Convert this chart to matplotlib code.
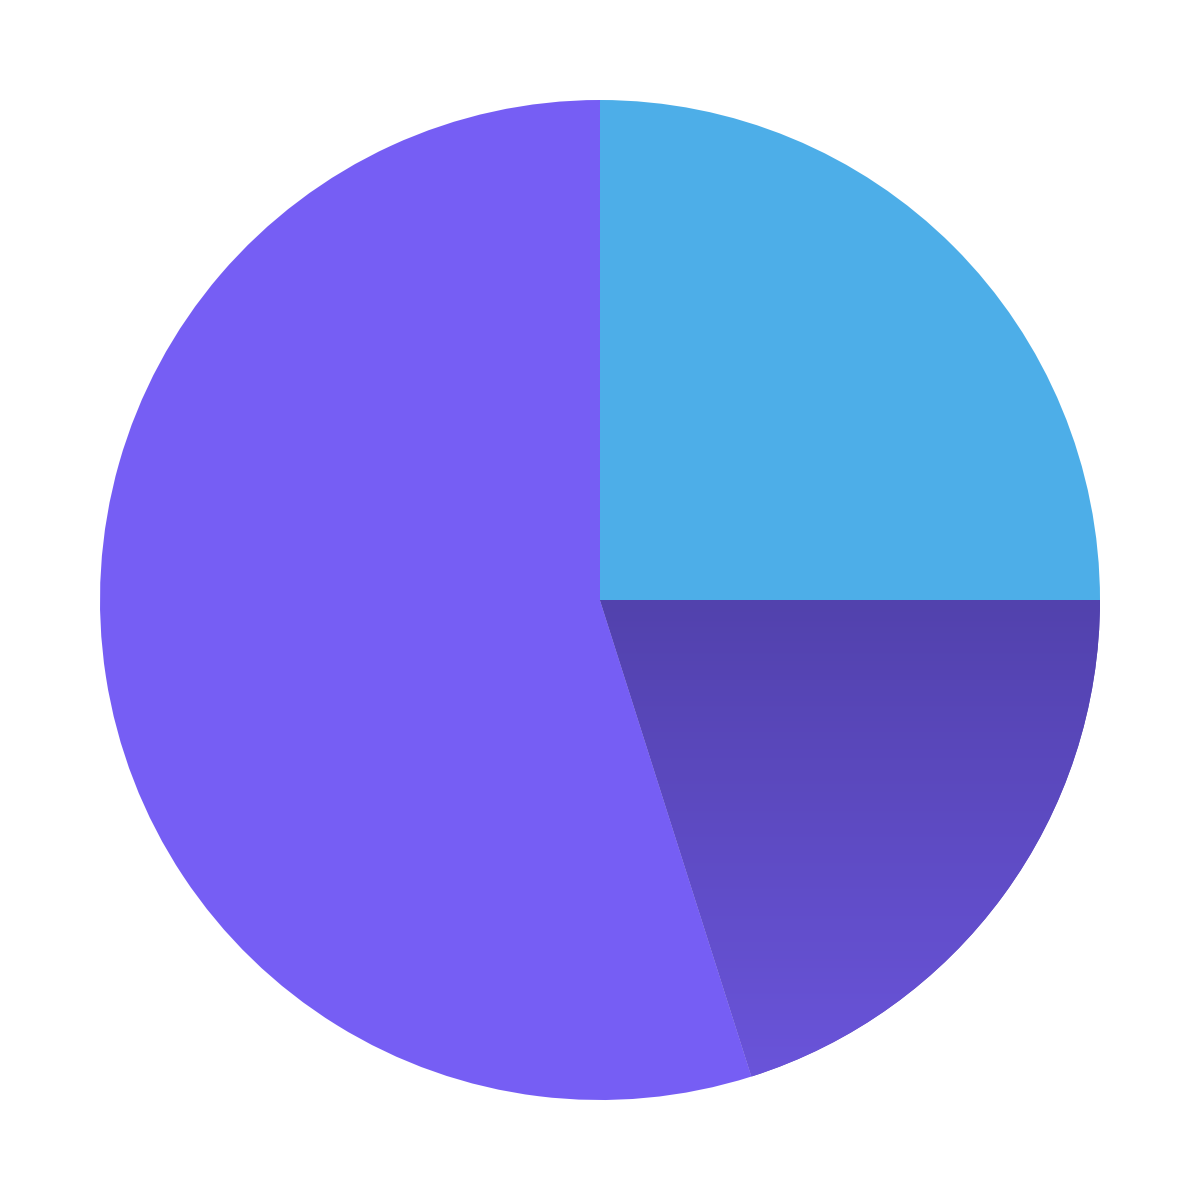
import numpy as np
import matplotlib.pyplot as plt
from matplotlib.colors import LinearSegmentedColormap

labels = ["A", "B", "C"]
values = [25, 20.1, 54.9]
colors = ["#4daee8", "#5a47b8", "#765ef4"]

fig = plt.figure(figsize=(12, 12), dpi=100)
ax = fig.add_axes([0, 0, 1, 1])

wedges, _ = ax.pie(values, colors=colors, startangle=90, counterclock=False,
                   radius=1.0, wedgeprops=dict(linewidth=0))

# gradient fill on the darker slice
grad = LinearSegmentedColormap.from_list("g", ["#5242ad", "#6b55dc"])
img = ax.imshow(np.linspace(0, 1, 256).reshape(-1, 1), cmap=grad, aspect="auto",
                extent=(0, 1, -1, 0), origin="upper", zorder=wedges[1].get_zorder() + 0.1)
img.set_clip_path(wedges[1])

ax.set_xlim(-1.2, 1.2)
ax.set_ylim(-1.2, 1.2)
ax.set_aspect("equal")
ax.axis("off")

fig.savefig("out.png", dpi=100, facecolor="white")
